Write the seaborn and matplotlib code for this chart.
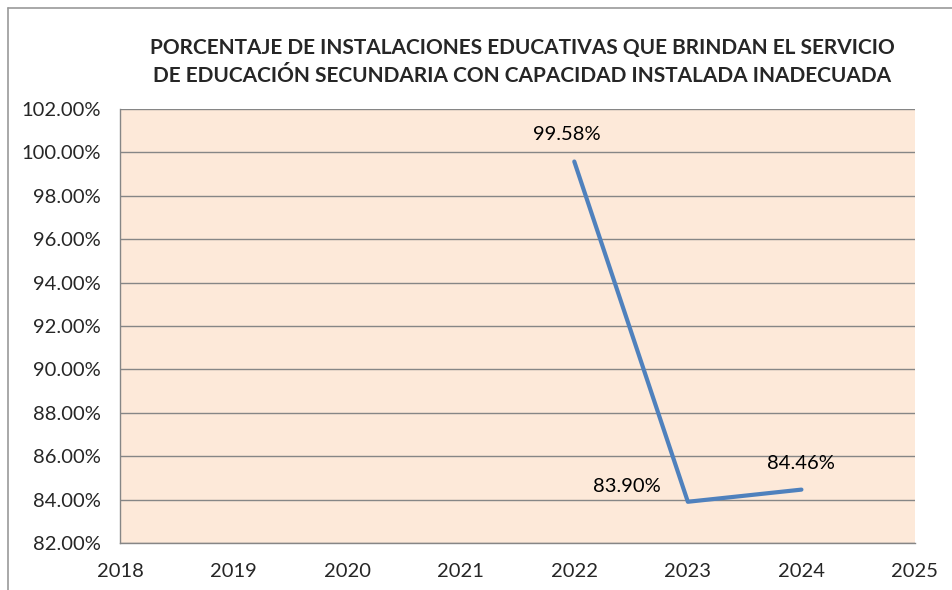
import matplotlib
matplotlib.use("Agg")
import matplotlib.pyplot as plt
import seaborn as sns
import pandas as pd
from matplotlib.ticker import FuncFormatter

years = [2022, 2023, 2024]
values = [99.58, 83.90, 84.46]
labels = ["99.58%", "83.90%", "84.46%"]

df = pd.DataFrame({"year": years, "pct": values})

sns.set_style("white")
plt.rcParams["font.family"] = ["Lato", "DejaVu Sans"]

fig = plt.figure(figsize=(9.52, 5.9), dpi=100)
ax = fig.add_axes([120 / 952, 47 / 590, 795 / 952, 434 / 590])
ax.set_facecolor("#FDE9D9")

sns.lineplot(data=df, x="year", y="pct", ax=ax, color="#4F81BD", linewidth=3)

ax.set_xlim(2018, 2025)
ax.set_ylim(82, 102)
ax.set_xticks(range(2018, 2026))
ax.set_yticks([82 + 2 * i for i in range(11)])
ax.yaxis.set_major_formatter(FuncFormatter(lambda v, p: f"{v:.2f}%"))
ax.grid(axis="y", color="#868686", linewidth=1)
ax.set_axisbelow(True)
ax.set_xlabel("")
ax.set_ylabel("")

for s in ["top", "right"]:
    ax.spines[s].set_visible(False)
for s in ["left", "bottom"]:
    ax.spines[s].set_color("#868686")
    ax.spines[s].set_linewidth(1)
ax.tick_params(axis="both", length=4.5, width=1, color="#868686", labelsize=14.5, direction="out")
ax.tick_params(axis="x", pad=10)
ax.tick_params(axis="y", pad=9)

# data labels
offsets = [(-7, 27), (-61, 15), (0, 26)]
for x, y, t, (dx, dy) in zip(years, values, labels, offsets):
    ax.annotate(t, (x, y), xytext=(dx, dy), textcoords="offset pixels",
                ha="center", va="center", fontsize=14.5, color="#000000")

fig.text(522 / 952, 1 - 48 / 590, "PORCENTAJE DE INSTALACIONES EDUCATIVAS QUE BRINDAN EL SERVICIO",
         ha="center", va="center", fontsize=15, fontweight="bold")
fig.text(522 / 952, 1 - 76 / 590, "DE EDUCACIÓN SECUNDARIA CON CAPACIDAD INSTALADA INADECUADA",
         ha="center", va="center", fontsize=15, fontweight="bold")

# chart frame
fig.add_artist(plt.Line2D([8 / 952, 1], [1 - 8 / 590] * 2, color="#999999", linewidth=1.2))
fig.add_artist(plt.Line2D([8 / 952] * 2, [0, 1 - 8 / 590], color="#999999", linewidth=1.2))

fig.savefig("out.png", dpi=100)
